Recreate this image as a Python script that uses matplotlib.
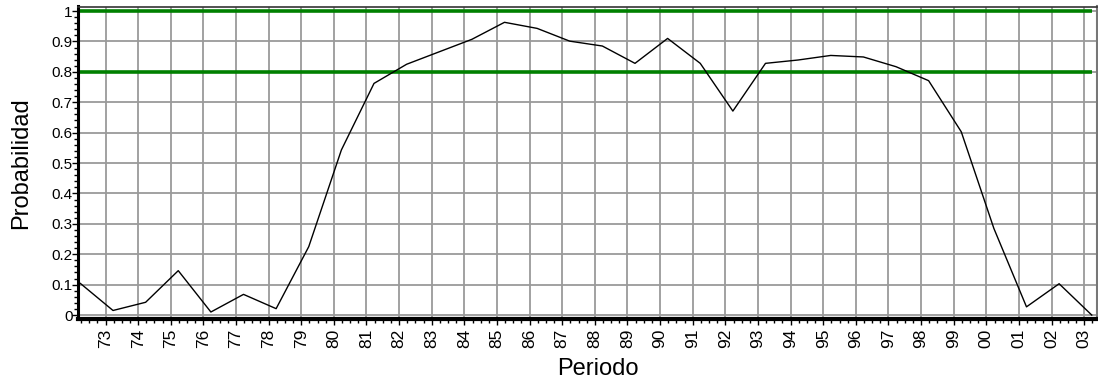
import matplotlib
matplotlib.use("Agg")
import matplotlib.pyplot as plt
from matplotlib.ticker import MultipleLocator, FixedLocator

plt.rcParams['font.family'] = ['Liberation Sans', 'DejaVu Sans']

years = list(range(1972, 2004))
prob = [0.104, 0.015, 0.042, 0.146, 0.010, 0.068, 0.021, 0.225, 0.543, 0.762,
        0.825, 0.866, 0.907, 0.963, 0.943, 0.901, 0.885, 0.828, 0.910, 0.828,
        0.671, 0.828, 0.839, 0.854, 0.849, 0.817, 0.771, 0.603, 0.285, 0.027,
        0.103, 0.0]
tick_years = list(range(1973, 2004))
tick_labels = [f"{y % 100:02d}" for y in tick_years]
ref_levels = [1.0, 0.8]
ytick_vals = [0.0, 0.1, 0.2, 0.3, 0.4, 0.5, 0.6, 0.7, 0.8, 0.9, 1.0]
ytick_labels = ["0", "0.1", "0.2", "0.3", "0.4", "0.5", "0.6", "0.7", "0.8", "0.9", "1"]

offset = 0.23  # points sit slightly after the year gridline
xs = [y + offset for y in years]

fig = plt.figure(figsize=(10.98, 3.85), dpi=100)
ax = fig.add_axes([78/1098, 66/385, (1096.5-78)/1098, (319-6.5)/385])

ax.set_xlim(1972.157, 2003.376)
ax.set_ylim(-0.013, 1.015)

ax.xaxis.set_major_locator(FixedLocator(tick_years))
ax.set_xticklabels(tick_labels, rotation=90, fontsize=12.5)
ax.xaxis.set_minor_locator(MultipleLocator(0.25))
ax.yaxis.set_major_locator(FixedLocator(ytick_vals))
ax.set_yticklabels(ytick_labels, fontsize=11)
ax.yaxis.set_minor_locator(MultipleLocator(0.02))

ax.grid(True, which='major', color='#9a9a9a', linewidth=1.3, zorder=0)
ax.set_axisbelow(True)

for lv in ref_levels:
    ax.hlines(lv, xs[0], xs[-1], colors='#008000', linewidth=2.6, zorder=3)

ax.plot(xs, prob, color='black', linewidth=1.0, zorder=4)

ax.spines['left'].set_linewidth(2.2)
ax.spines['bottom'].set_linewidth(3)
ax.spines['top'].set_linewidth(1.2)
ax.spines['top'].set_color('#333333')
ax.spines['right'].set_linewidth(1.5)
ax.spines['right'].set_color('#777777')

ax.tick_params(axis='x', which='major', length=4, width=1, pad=3, direction='out')
ax.tick_params(axis='x', which='minor', length=3, width=1, direction='out')
ax.tick_params(axis='y', which='major', length=4, width=1, pad=0, direction='out')
ax.tick_params(axis='y', which='minor', length=3, width=1, direction='out')

ax.set_ylabel('Probabilidad', fontsize=17)
ax.yaxis.set_label_coords(-46/1018.5, 0.5)
ax.set_xlabel('Periodo', fontsize=17)
ax.xaxis.set_label_coords((598-78)/(1096.5-78), -0.125)

fig.savefig('out.png', dpi=100)
